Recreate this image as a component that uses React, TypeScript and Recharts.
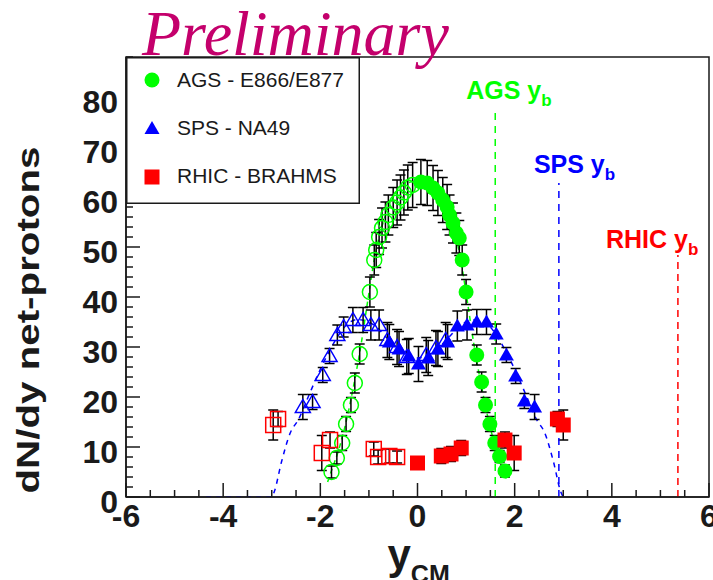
import React from 'react';
import {
  ComposedChart,
  XAxis,
  YAxis,
  Scatter,
  Line,
  ErrorBar,
  ReferenceLine,
  ReferenceArea,
} from 'recharts';

// ---------- data ----------
const agsMeasured = [
  { x: 0.07, y: 63.0, e: 4.5 }, { x: 0.2, y: 62.8, e: 4.5 }, { x: 0.32, y: 61.8, e: 4.5 },
  { x: 0.42, y: 60.8, e: 4.5 }, { x: 0.52, y: 59.4, e: 4.5 }, { x: 0.61, y: 58.0, e: 4.5 },
  { x: 0.66, y: 56.4, e: 4 }, { x: 0.73, y: 54.8, e: 4 }, { x: 0.8, y: 52.8, e: 4 },
  { x: 0.86, y: 51.8, e: 3.5 }, { x: 0.92, y: 47.4, e: 3 }, { x: 1.0, y: 41.0, e: 2.5 },
  { x: 1.22, y: 28.4, e: 2 }, { x: 1.32, y: 23.0, e: 2 }, { x: 1.4, y: 18.4, e: 1.5 },
  { x: 1.49, y: 14.6, e: 1.5 }, { x: 1.59, y: 10.8, e: 1.5 }, { x: 1.69, y: 8.1, e: 1.2 },
  { x: 1.8, y: 5.2, e: 1.2 },
];
const agsReflected = [
  { x: -0.1, y: 62.4, e: 4.5 }, { x: -0.2, y: 61.9, e: 4.5 }, { x: -0.28, y: 60.9, e: 4.5 },
  { x: -0.35, y: 59.9, e: 4.5 }, { x: -0.42, y: 58.9, e: 4.5 }, { x: -0.5, y: 57.9, e: 4 },
  { x: -0.6, y: 56.4, e: 4 }, { x: -0.66, y: 55.0, e: 4 }, { x: -0.73, y: 53.8, e: 4 },
  { x: -0.79, y: 52.0, e: 3.5 }, { x: -0.85, y: 49.4, e: 3.5 }, { x: -0.89, y: 47.4, e: 3 },
  { x: -0.98, y: 41.0, e: 3 }, { x: -1.19, y: 28.6, e: 2 }, { x: -1.29, y: 22.8, e: 2 },
  { x: -1.37, y: 18.4, e: 1.5 }, { x: -1.47, y: 14.6, e: 1.5 }, { x: -1.55, y: 10.8, e: 1.5 },
  { x: -1.66, y: 7.8, e: 1.2 }, { x: -1.77, y: 5.0, e: 1.2 },
];
const spsMeasured = [
  { x: -0.58, y: 31.0, e: 3.5 }, { x: -0.38, y: 29.6, e: 3.5 }, { x: -0.18, y: 28.2, e: 3.5 },
  { x: 0.02, y: 26.6, e: 3.5 }, { x: 0.22, y: 27.8, e: 3.5 }, { x: 0.42, y: 29.6, e: 3.5 },
  { x: 0.62, y: 31.0, e: 3.5 }, { x: 0.82, y: 34.2, e: 3 }, { x: 1.02, y: 34.4, e: 3 },
  { x: 1.22, y: 35.0, e: 2.5 }, { x: 1.42, y: 35.0, e: 2.5 }, { x: 1.62, y: 32.6, e: 2 },
  { x: 1.83, y: 28.4, e: 1.5 }, { x: 2.02, y: 24.2, e: 1.5 }, { x: 2.2, y: 19.2, e: 1.5 },
  { x: 2.41, y: 18.0, e: 2.5 },
];
const spsReflected = [
  { x: -2.36, y: 18.0, e: 2.5 }, { x: -2.16, y: 19.0, e: 1.5 }, { x: -1.95, y: 24.4, e: 1.5 },
  { x: -1.81, y: 28.2, e: 1.5 }, { x: -1.65, y: 32.4, e: 2 }, { x: -1.52, y: 34.0, e: 2 },
  { x: -1.33, y: 35.4, e: 2.5 }, { x: -1.12, y: 35.4, e: 2.5 }, { x: -0.96, y: 34.4, e: 3 },
  { x: -0.79, y: 34.4, e: 3 }, { x: -0.62, y: 31.4, e: 3.5 }, { x: -0.42, y: 30.0, e: 3.5 },
  { x: -0.22, y: 28.0, e: 3.5 }, { x: 0.18, y: 28.4, e: 3.5 }, { x: 0.38, y: 29.8, e: 3.5 },
  { x: 0.58, y: 31.4, e: 3.5 },
];
const rhicMeasured = [
  { x: 0.0, y: 6.8, e: 1.0 }, { x: 0.49, y: 8.2, e: 1.5 }, { x: 0.69, y: 8.6, e: 1.5 },
  { x: 0.9, y: 9.8, e: 1.5 }, { x: 1.8, y: 11.4, e: 1.6 }, { x: 1.99, y: 8.8, e: 3.5 },
  { x: 2.88, y: 15.6, e: 1.5 }, { x: 3.0, y: 14.4, e: 3 },
];
const rhicReflected = [
  { x: -2.87, y: 15.6, e: 1.5 }, { x: -2.97, y: 14.4, e: 3 }, { x: -1.97, y: 8.8, e: 3.5 },
  { x: -1.8, y: 11.4, e: 1.6 }, { x: -0.9, y: 9.6, e: 1.4 }, { x: -0.81, y: 8.0, e: 1.4 },
  { x: -0.58, y: 8.2, e: 1.4 }, { x: -0.42, y: 8.0, e: 1.2 },
];
const agsFit = [
  { x: -1.85, y: 3 }, { x: -1.78, y: 5 }, { x: -1.62, y: 9.5 }, { x: -1.47, y: 15 },
  { x: -1.32, y: 22 }, { x: -1.17, y: 30 }, { x: -1.02, y: 39.5 }, { x: -0.88, y: 48 },
  { x: -0.72, y: 54.5 }, { x: -0.52, y: 59.5 }, { x: -0.3, y: 62.3 }, { x: 0, y: 63.2 },
  { x: 0.3, y: 62.3 }, { x: 0.52, y: 59.5 }, { x: 0.72, y: 54.5 }, { x: 0.88, y: 48 },
  { x: 1.02, y: 39.5 }, { x: 1.17, y: 30 }, { x: 1.32, y: 22 }, { x: 1.47, y: 15 },
  { x: 1.62, y: 9.5 }, { x: 1.78, y: 5 }, { x: 1.85, y: 3 },
];
const spsFit = [
  { x: -4.35, y: 0 }, { x: -3.0, y: 0 }, { x: -2.95, y: 1 }, { x: -2.8, y: 7 },
  { x: -2.62, y: 12.8 }, { x: -2.45, y: 15.5 }, { x: -2.25, y: 20 }, { x: -2.05, y: 24.5 },
  { x: -1.85, y: 28.5 }, { x: -1.65, y: 32 }, { x: -1.45, y: 34.5 }, { x: -1.25, y: 35.5 },
  { x: -1.05, y: 35.2 }, { x: -0.85, y: 34 }, { x: -0.65, y: 32 }, { x: -0.45, y: 30 },
  { x: -0.25, y: 28.5 }, { x: 0, y: 27.8 }, { x: 0.25, y: 28.5 }, { x: 0.45, y: 30 },
  { x: 0.65, y: 32 }, { x: 0.85, y: 34 }, { x: 1.05, y: 35.2 }, { x: 1.25, y: 35.5 },
  { x: 1.45, y: 34.5 }, { x: 1.65, y: 32 }, { x: 1.85, y: 28.5 }, { x: 2.05, y: 24.5 },
  { x: 2.25, y: 20 }, { x: 2.45, y: 15.5 }, { x: 2.62, y: 12.8 }, { x: 2.8, y: 7 },
  { x: 2.95, y: 1 }, { x: 3.0, y: 0 },
];
const beamRapidity = { ags: 1.6, sps: 2.91, rhic: 5.36 };
const beamLineTop = { ags: 78, sps: 62.8, rhic: 48.4 };

const xTicks = [
  -6, -5.5, -5, -4.5, -4, -3.5, -3, -2.5, -2, -1.5, -1, -0.5, 0,
  0.5, 1, 1.5, 2, 2.5, 3, 3.5, 4, 4.5, 5, 5.5, 6,
];
const xTickLabels = [-6, -4, -2, 0, 2, 4, 6];
const yTicks = [
  0, 2, 4, 6, 8, 10, 12, 14, 16, 18, 20, 22, 24, 26, 28, 30, 32, 34, 36, 38, 40,
  42, 44, 46, 48, 50, 52, 54, 56, 58, 60, 62, 64, 66, 68, 70, 72, 74, 76, 78, 80, 82, 84, 86, 88,
];
const yTickLabels = [0, 10, 20, 30, 40, 50, 60, 70, 80];

const GREEN = '#00ff00';
const BLUE = '#0000ff';
const RED = '#ff0000';
const INK = '#1a1a1a';
const FONT = '"Liberation Sans", Arial, Helvetica, sans-serif';

// ---------- shapes ----------
const circle = (color: string, filled: boolean) => (p: any) =>
  p.cx == null ? <g /> : (
    <circle cx={p.cx} cy={p.cy} r={7.5} fill={filled ? color : 'none'} stroke={color} strokeWidth={filled ? 0 : 1.5} />
  );
const triangle = (color: string, filled: boolean) => (p: any) =>
  p.cx == null ? <g /> : (
    <polygon
      points={`${p.cx},${p.cy - 7.5} ${p.cx - 7.5},${p.cy + 5.5} ${p.cx + 7.5},${p.cy + 5.5}`}
      fill={filled ? color : 'none'}
      stroke={color}
      strokeWidth={filled ? 0 : 1.5}
    />
  );
const square = (color: string, filled: boolean) => (p: any) =>
  p.cx == null ? <g /> : (
    <rect x={p.cx - 7.5} y={p.cy - 7.5} width={15} height={15} fill={filled ? color : 'none'} stroke={color} strokeWidth={filled ? 0 : 1.5} />
  );

// ---------- axis ticks ----------
const XTick = (props: any) => {
  const { x, y, payload } = props;
  const v = payload.value;
  const major = xTickLabels.some((t) => Math.abs(t - v) < 1e-6);
  return (
    <g>
      <line x1={x} y1={y} x2={x} y2={y - (major ? 14 : 7)} stroke={INK} strokeWidth={1.5} />
      {major && (
        <text x={x} y={y + 30} textAnchor="middle" fontFamily={FONT} fontWeight="bold" fontSize={32} fill={INK}>
          {String(v)}
        </text>
      )}
    </g>
  );
};
const YTick = (props: any) => {
  const { x, y, payload } = props;
  const v = payload.value;
  const major = yTickLabels.some((t) => Math.abs(t - v) < 1e-6);
  return (
    <g>
      <line x1={x} y1={y} x2={x + (major ? 14 : 7)} y2={y} stroke={INK} strokeWidth={1.5} />
      {major && (
        <text x={x - 8} y={y + 16} textAnchor="end" fontFamily={FONT} fontWeight="bold" fontSize={32} fill={INK}>
          {String(v)}
        </text>
      )}
    </g>
  );
};

const XTitle = (props: any) => {
  const vb = props.viewBox || { x: 0, y: 0, width: 0 };
  return (
    <text x={vb.x + vb.width / 2 - 30} y={vb.y + 72} fontFamily={FONT} fontWeight="bold" fill={INK}>
      <tspan fontSize={42}>y</tspan>
      <tspan fontSize={25} dy={14}>CM</tspan>
    </text>
  );
};
const YTitle = (props: any) => {
  const vb = props.viewBox || { x: 0, y: 0, height: 0 };
  const cx = vb.x + 39;
  const cy = vb.y + vb.height / 2 + 43;
  return (
    <text
      x={cx}
      y={cy}
      transform={`rotate(-90 ${cx} ${cy})`}
      textAnchor="middle"
      fontFamily={FONT}
      fontWeight="bold"
      fontSize={31}
      fill={INK}
      textLength={347}
      lengthAdjust="spacingAndGlyphs"
    >
      dN/dy net-protons
    </text>
  );
};
const Title = (props: any) => {
  const vb = props.viewBox || { x: 0, y: 0 };
  return (
    <text x={vb.x + 16} y={vb.y - 2} fontFamily={'"Liberation Serif", "Times New Roman", serif'} fontStyle="italic" fontSize={64} fill="#c4006c">
      Preliminary
    </text>
  );
};
const BeamLabel = (props: any) => {
  const vb = props.viewBox || { x: 0, y: 0 };
  const { text, color, dx, dy } = props;
  return (
    <text x={vb.x + dx} y={vb.y + dy} fontFamily={FONT} fontWeight="bold" fill={color}>
      <tspan fontSize={25}>{text} y</tspan>
      <tspan fontSize={17} dy={7}>b</tspan>
    </text>
  );
};

const LegendBox = () => (
  <svg width={234} height={147} style={{ position: 'absolute', left: 126, top: 57 }}>
    <rect x={0.75} y={0.75} width={232.5} height={145.5} fill="#fff" stroke={INK} strokeWidth={1.5} />
    <circle cx={26} cy={23} r={7.5} fill={GREEN} />
    <polygon points="26,64 18.5,77 33.5,77" fill={BLUE} />
    <rect x={18.5} y={112.5} width={15} height={15} fill={RED} />
    <g fontFamily={FONT} fontSize={21} fill={INK}>
      <text x={51} y={30}>AGS - E866/E877</text>
      <text x={51} y={78}>SPS - NA49</text>
      <text x={51} y={126}>RHIC - BRAHMS</text>
    </g>
  </svg>
);

export default function App() {
  return (
    <div style={{ position: 'absolute', left: 0, top: 0, width: 713, height: 580, background: '#fff' }}>
      <ComposedChart width={713} height={580} margin={{ top: 57, right: 4, left: 0, bottom: 0 }}>
        <XAxis
          type="number"
          dataKey="x"
          domain={[-6, 6]}
          allowDataOverflow
          ticks={xTicks}
          interval={0}
          height={83}
          tickSize={0}
          tickMargin={0}
          tickLine={false}
          tick={<XTick />}
          axisLine={{ stroke: INK, strokeWidth: 1.5 }}
          label={<XTitle />}
        />
        <YAxis
          type="number"
          dataKey="y"
          domain={[0, 88]}
          allowDataOverflow
          ticks={yTicks}
          interval={0}
          width={126}
          tickSize={0}
          tickMargin={0}
          tickLine={false}
          tick={<YTick />}
          axisLine={{ stroke: INK, strokeWidth: 1.5 }}
          label={<YTitle />}
        />
        <ReferenceArea x1={-6} x2={6} y1={0} y2={88} fill="none" stroke={INK} strokeWidth={1.5} label={<Title />} />
        <Line data={spsFit} dataKey="y" type="monotone" stroke={BLUE} strokeWidth={1.5} strokeDasharray="5 5" dot={false} activeDot={false} isAnimationActive={false} />
        <Line data={agsFit} dataKey="y" type="monotone" stroke={GREEN} strokeWidth={1.5} strokeDasharray="5 4" dot={false} activeDot={false} isAnimationActive={false} />
        <Scatter data={spsReflected} dataKey="y" shape={triangle(BLUE, false)} isAnimationActive={false}>
          <ErrorBar dataKey="e" direction="y" stroke="#000" strokeWidth={1.5} width={5} />
        </Scatter>
        <Scatter data={spsMeasured} dataKey="y" shape={triangle(BLUE, true)} isAnimationActive={false}>
          <ErrorBar dataKey="e" direction="y" stroke="#000" strokeWidth={1.5} width={5} />
        </Scatter>
        <Scatter data={agsReflected} dataKey="y" shape={circle(GREEN, false)} isAnimationActive={false}>
          <ErrorBar dataKey="e" direction="y" stroke="#000" strokeWidth={1.5} width={5} />
        </Scatter>
        <Scatter data={agsMeasured} dataKey="y" shape={circle(GREEN, true)} isAnimationActive={false}>
          <ErrorBar dataKey="e" direction="y" stroke="#000" strokeWidth={1.5} width={5} />
        </Scatter>
        <Scatter data={rhicReflected} dataKey="y" shape={square(RED, false)} isAnimationActive={false}>
          <ErrorBar dataKey="e" direction="y" stroke="#000" strokeWidth={1.5} width={5} />
        </Scatter>
        <Scatter data={rhicMeasured} dataKey="y" shape={square(RED, true)} isAnimationActive={false}>
          <ErrorBar dataKey="e" direction="y" stroke="#000" strokeWidth={1.5} width={5} />
        </Scatter>
        <ReferenceLine
          segment={[{ x: beamRapidity.ags, y: 0 }, { x: beamRapidity.ags, y: beamLineTop.ags }]}
          stroke={GREEN}
          strokeWidth={1.5}
          strokeDasharray="7 6"
          label={<BeamLabel text="AGS" color={GREEN} dx={-29} dy={-8} />}
        />
        <ReferenceLine
          segment={[{ x: beamRapidity.sps, y: 0 }, { x: beamRapidity.sps, y: beamLineTop.sps }]}
          stroke={BLUE}
          strokeWidth={1.5}
          strokeDasharray="7 6"
          label={<BeamLabel text="SPS" color={BLUE} dx={-25} dy={-10} />}
        />
        <ReferenceLine
          segment={[{ x: beamRapidity.rhic, y: 0 }, { x: beamRapidity.rhic, y: beamLineTop.rhic }]}
          stroke={RED}
          strokeWidth={1.5}
          strokeDasharray="7 5"
          label={<BeamLabel text="RHIC" color={RED} dx={-72} dy={-7} />}
        />
      </ComposedChart>
      <LegendBox />
    </div>
  );
}
